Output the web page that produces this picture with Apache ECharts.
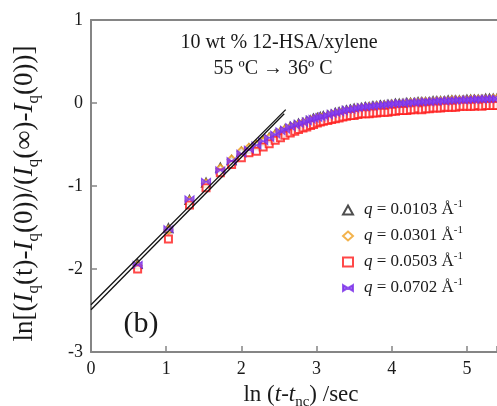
<!DOCTYPE html>
<html>
<head>
<meta charset="utf-8">
<script src="https://cdn.jsdelivr.net/npm/echarts@6/dist/echarts.min.js"></script>
<style>html,body{margin:0;padding:0;background:#fff}#c{width:497px;height:406px}</style>
</head>
<body>
<div id="c"></div>
<script>
// ln(t - t_nc) values shared by all q series
const lnT = [0.62,1.03,1.31,1.53,1.72,1.87,2.00,2.10,2.20,2.29,2.37,2.45,2.52,2.58,2.65,2.71,2.76,2.82,2.87,2.92,2.96,3.01,3.05,3.09,
  3.15,3.20,3.25,3.30,3.35,3.40,3.45,3.50,3.55,3.60,3.65,3.70,3.75,3.80,3.85,3.90,3.95,4.00,4.05,4.10,4.15,4.20,4.25,4.30,4.35,4.40,
  4.45,4.50,4.55,4.60,4.65,4.70,4.75,4.80,4.85,4.90,4.95,5.00,5.05,5.10,5.15,5.20,5.25,5.30,5.35,5.40];

const q0103 = [-1.94,-1.51,-1.17,-0.96,-0.78,-0.69,-0.59,-0.55,-0.51,-0.46,-0.42,-0.38,-0.35,-0.32,-0.29,-0.27,-0.25,-0.24,-0.22,-0.21,-0.19,-0.18,-0.17,-0.16,
  -0.15,-0.14,-0.12,-0.11,-0.10,-0.09,-0.08,-0.07,-0.07,-0.06,-0.05,-0.05,-0.04,-0.04,-0.03,-0.03,-0.02,-0.02,-0.01,-0.01,-0.01,0.00,0.00,0.00,0.01,0.01,
  0.01,0.01,0.02,0.02,0.02,0.02,0.03,0.03,0.03,0.03,0.03,0.04,0.04,0.04,0.04,0.04,0.05,0.05,0.05,0.05];
const q0301 = [-1.96,-1.53,-1.18,-0.97,-0.79,-0.68,-0.58,-0.54,-0.50,-0.46,-0.42,-0.38,-0.35,-0.32,-0.30,-0.28,-0.26,-0.24,-0.23,-0.21,-0.20,-0.19,-0.18,-0.17,
  -0.16,-0.14,-0.13,-0.12,-0.11,-0.10,-0.09,-0.08,-0.07,-0.07,-0.06,-0.05,-0.05,-0.04,-0.04,-0.03,-0.03,-0.02,-0.02,-0.02,-0.01,-0.01,0.00,0.00,0.00,0.01,
  0.01,0.01,0.01,0.02,0.02,0.02,0.02,0.03,0.03,0.03,0.03,0.03,0.04,0.04,0.04,0.04,0.04,0.04,0.05,0.05];
const q0503 = [-2.00,-1.64,-1.23,-1.02,-0.84,-0.74,-0.66,-0.60,-0.58,-0.53,-0.49,-0.45,-0.42,-0.39,-0.36,-0.34,-0.32,-0.30,-0.29,-0.27,-0.26,-0.24,-0.23,-0.22,
  -0.21,-0.20,-0.19,-0.18,-0.17,-0.16,-0.15,-0.15,-0.14,-0.13,-0.13,-0.13,-0.12,-0.12,-0.11,-0.11,-0.11,-0.10,-0.10,-0.09,-0.09,-0.09,-0.08,-0.08,-0.07,-0.08,
  -0.07,-0.07,-0.06,-0.06,-0.06,-0.05,-0.05,-0.05,-0.05,-0.04,-0.04,-0.04,-0.04,-0.04,-0.03,-0.04,-0.03,-0.03,-0.03,-0.03];
const q0702 = [-1.95,-1.52,-1.16,-0.95,-0.81,-0.70,-0.61,-0.56,-0.51,-0.46,-0.42,-0.38,-0.34,-0.32,-0.29,-0.27,-0.25,-0.24,-0.22,-0.20,-0.19,-0.18,-0.17,-0.16,
  -0.15,-0.13,-0.12,-0.11,-0.10,-0.08,-0.08,-0.07,-0.06,-0.05,-0.05,-0.04,-0.04,-0.03,-0.03,-0.02,-0.02,-0.01,-0.01,0.00,-0.01,0.00,0.01,0.00,0.01,0.01,
  0.02,0.01,0.02,0.02,0.03,0.02,0.03,0.03,0.03,0.04,0.03,0.04,0.04,0.04,0.05,0.04,0.05,0.05,0.05,0.05];

// linear fits: [x0, y0, x1, y1]
const fitA = [0, -2.43, 2.59, -0.08];
const fitB = [0, -2.49, 2.57, -0.13];

const seriesNames = ['q = 0.0103', 'q = 0.0301', 'q = 0.0503', 'q = 0.0702'];
const xTicks = [0, 1, 2, 3, 4, 5];
const yTicks = [-3, -2, -1, 0, 1];

const FONT = '"Liberation Serif", "DejaVu Serif", serif';
const AXC = '#858585';
const TXT = '#1a1a1a';

function pts(ys) { return lnT.map((x, i) => [x, ys[i]]); }
function seg(f) { return [[f[0], f[1]], [f[2], f[3]]]; }

const bowtie = 'path://M0,0L10,6L0,12Z M20,0L10,6L20,12Z';

const chart = echarts.init(document.getElementById('c'), null, {renderer: 'canvas'});
chart.setOption({
  animation: false,
  backgroundColor: '#fff',
  grid: {left: 91, right: 0, top: 20, bottom: 54, containLabel: false, outerBoundsMode: 'none'},
  xAxis: [{
    type: 'value', position: 'bottom', min: 0, max: 5.4, interval: 1,
    name: '{n|ln (}{i|t}{n|-}{i|t}{sub|nc}{n|) /sec}',
    nameLocation: 'middle', nameGap: 28,
    nameTextStyle: {
      padding: [0, 0, 0, 14],
      rich: {
        n: {fontFamily: FONT, fontSize: 23, color: TXT, lineHeight: 30, verticalAlign: 'middle'},
        i: {fontFamily: FONT, fontSize: 23, fontStyle: 'italic', color: TXT, lineHeight: 30, verticalAlign: 'middle'},
        sub: {fontFamily: FONT, fontSize: 15, color: TXT, lineHeight: 15, verticalAlign: 'bottom'}
      }
    },
    axisLine: {show: true, onZero: false, lineStyle: {color: AXC, width: 2}},
    axisTick: {show: true, inside: true, length: 6, lineStyle: {color: AXC, width: 1.5}},
    axisLabel: {fontFamily: FONT, fontSize: 18, color: TXT, margin: 8,
      formatter: v => xTicks.indexOf(v) >= 0 ? String(v) : ''},
    splitLine: {show: false}
  }, {
    type: 'value', position: 'top', min: 0, max: 5.4, interval: 1,
    axisLine: {show: true, onZero: false, lineStyle: {color: AXC, width: 2}},
    axisTick: {show: false}, axisLabel: {show: false}, splitLine: {show: false}
  }],
  yAxis: {
    type: 'value', min: -3, max: 1, interval: 1,
    name: '{n|ln[(}{i|I}{sub|q}{n|(t)-}{i|I}{sub|q}{n|(0))/(}{i|I}{sub|q}{n|(∞)-}{i|I}{sub|q}{n|(0))]}',
    nameLocation: 'middle', nameGap: 49, nameRotate: 90,
    nameTextStyle: {
      padding: [0, 15, 0, 0],
      rich: {
        n: {fontFamily: FONT, fontSize: 27, color: TXT, lineHeight: 34, verticalAlign: 'middle'},
        i: {fontFamily: FONT, fontSize: 27, fontStyle: 'italic', color: TXT, lineHeight: 34, verticalAlign: 'middle'},
        sub: {fontFamily: FONT, fontSize: 17, color: TXT, lineHeight: 17, verticalAlign: 'bottom'}
      }
    },
    axisLine: {show: true, onZero: false, lineStyle: {color: AXC, width: 2}},
    axisTick: {show: true, inside: true, length: 6, lineStyle: {color: AXC, width: 1.5}},
    axisLabel: {fontFamily: FONT, fontSize: 18, color: TXT, margin: 8,
      formatter: v => yTicks.indexOf(v) >= 0 ? String(v) : ''},
    splitLine: {show: false}
  },
  legend: {
    orient: 'vertical', left: 337, top: 194, itemGap: 6.5,
    itemWidth: 10, itemHeight: 9,
    data: seriesNames,
    formatter: name => {
      const num = name.split('= ')[1];
      return '{i|q}{n| = ' + num + ' Å}{s|-1}';
    },
    textStyle: {
      padding: [0, 0, 0, 6],
      rich: {
        n: {fontFamily: FONT, fontSize: 17, color: TXT, lineHeight: 22, verticalAlign: 'middle'},
        i: {fontFamily: FONT, fontSize: 17, fontStyle: 'italic', color: TXT, lineHeight: 22, verticalAlign: 'middle'},
        s: {fontFamily: FONT, fontSize: 11, color: TXT, lineHeight: 11, verticalAlign: 'top'}
      }
    }
  },
  graphic: [
    {type: 'text', x: 279, y: 43, style: {text: '10 wt % 12-HSA/xylene', font: '20px ' + FONT, fill: TXT, align: 'center', verticalAlign: 'middle'}},
    {type: 'text', x: 273, y: 69, style: {text: '55 ºC → 36º C', font: '20px ' + FONT, fill: TXT, align: 'center', verticalAlign: 'middle'}},
    {type: 'text', x: 141, y: 324, style: {text: '(b)', font: '30px ' + FONT, fill: TXT, align: 'center', verticalAlign: 'middle'}}
  ],
  series: [
    {name: seriesNames[0], type: 'scatter', data: pts(q0103), symbol: 'emptyTriangle', symbolSize: 8,
      itemStyle: {color: '#222', borderColor: '#222', borderWidth: 1.4}, z: 2},
    {name: seriesNames[1], type: 'scatter', data: pts(q0301), symbol: 'emptyDiamond', symbolSize: 8,
      itemStyle: {color: '#f0a020', borderColor: '#f0a020', borderWidth: 1.6}, z: 3},
    {name: seriesNames[2], type: 'scatter', data: pts(q0503), symbol: 'emptyRect', symbolSize: 7,
      itemStyle: {color: '#ff1a1a', borderColor: '#ff1a1a', borderWidth: 1.6}, z: 4},
    {name: seriesNames[3], type: 'scatter', data: pts(q0702), symbol: bowtie, symbolSize: [9, 7],
      itemStyle: {color: '#8a45f0', borderColor: '#7a30e8', borderWidth: 1}, z: 5},
    {type: 'line', data: seg(fitA), symbol: 'none', lineStyle: {color: '#111', width: 1.3}, z: 6, silent: true},
    {type: 'line', data: seg(fitB), symbol: 'none', lineStyle: {color: '#111', width: 1.3}, z: 6, silent: true}
  ]
});
</script>
</body>
</html>
